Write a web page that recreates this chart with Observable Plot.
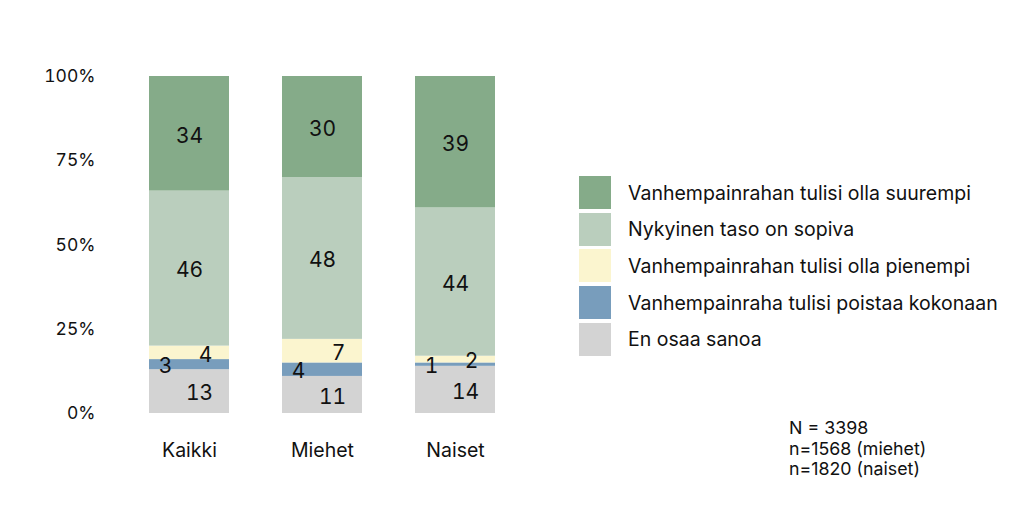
<!DOCTYPE html>
<html>
<head>
<meta charset="utf-8">
<script src="https://cdn.jsdelivr.net/npm/d3@7"></script>
<script src="https://cdn.jsdelivr.net/npm/@observablehq/plot@0.6"></script>
<style>
  html, body { margin: 0; padding: 0; background: #fff; }
  #wrap { position: relative; width: 1024px; height: 512px; font-family: Inter, "Noto Sans", sans-serif; color: #111; }
  #legend { position: absolute; left: 579px; top: 176px; }
  .row { display: flex; align-items: center; height: 33px; margin-bottom: 3.7px; }
  .sw { width: 32px; height: 33px; margin-right: 17px; }
  .lab { font-size: 19.5px; }
  #note { position: absolute; left: 789px; top: 418px; font-size: 17.8px; line-height: 20.5px; }
</style>
</head>
<body>
<div id="wrap"></div>
<script>
const categories = ["Kaikki", "Miehet", "Naiset"];
const series = [
  "Vanhempainrahan tulisi olla suurempi",
  "Nykyinen taso on sopiva",
  "Vanhempainrahan tulisi olla pienempi",
  "Vanhempainraha tulisi poistaa kokonaan",
  "En osaa sanoa"
];
const colors = ["#85ab89", "#bacebd", "#fbf5cf", "#789dbc", "#d3d3d3"];
const suurempi = [34, 30, 39];
const sopiva = [46, 48, 44];
const pienempi = [4, 7, 2];
const poistaa = [3, 4, 1];
const eos = [13, 11, 14];
const yTicks = [0, 25, 50, 75, 100];
const noteLines = ["N = 3398", "n=1568 (miehet)", "n=1820 (naiset)"];

const valuesBySeries = [suurempi, sopiva, pienempi, poistaa, eos];
const stackOrder = series.slice().reverse();

// table with cumulative bottom/top per category (bottom = "En osaa sanoa")
const data = [];
categories.forEach((c, j) => {
  let acc = 0;
  stackOrder.forEach(s => {
    const i = series.indexOf(s);
    const v = valuesBySeries[i][j];
    data.push({category: c, series: s, value: v, y1: acc, y2: acc + v});
    acc += v;
  });
});

const labelDx = {
  [series[0]]: 0, [series[1]]: 0, [series[2]]: 16, [series[3]]: -24, [series[4]]: 10
};

const plot = Plot.plot({
  width: 1024,
  height: 512,
  marginLeft: 95,
  marginRight: 475,
  marginTop: 76,
  marginBottom: 99,
  style: {fontFamily: "Inter, 'Noto Sans', sans-serif", fontSize: "17.5px", color: "#111", background: "transparent"},
  x: {domain: categories, padding: 0.4, label: null, tickSize: 0, tickPadding: 30},
  y: {domain: [0, 100], ticks: yTicks, tickFormat: d => d + "%", label: null, tickSize: 0, tickPadding: 0},
  color: {domain: series, range: colors},
  marks: [
    Plot.barY(data, {x: "category", y1: "y1", y2: "y2", fill: "series"}),
    ...series.map(s => Plot.text(data.filter(d => d.series === s), {
      x: "category", y: d => (d.y1 + d.y2) / 2, text: "value",
      fill: "#111", fontSize: 21, dx: labelDx[s], dy: 2
    }))
  ]
});
plot.querySelectorAll('g[aria-label="x-axis tick label"] text').forEach(t => t.style.fontSize = "19.5px");
const wrap = document.getElementById("wrap");
wrap.appendChild(plot);

const legend = document.createElement("div");
legend.id = "legend";
series.forEach((s, i) => {
  const row = document.createElement("div");
  row.className = "row";
  const sw = document.createElement("div");
  sw.className = "sw";
  sw.style.background = colors[i];
  const lab = document.createElement("div");
  lab.className = "lab";
  lab.textContent = s;
  row.appendChild(sw); row.appendChild(lab);
  legend.appendChild(row);
});
wrap.appendChild(legend);

const note = document.createElement("div");
note.id = "note";
note.innerHTML = noteLines.map(l => `<div>${l}</div>`).join("");
wrap.appendChild(note);
</script>
</body>
</html>
